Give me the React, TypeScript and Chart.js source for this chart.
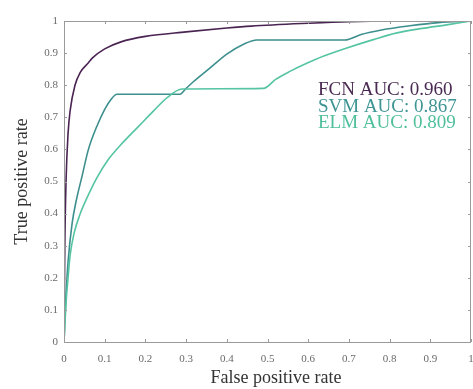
import React, { useEffect, useRef } from "react";
import { Chart, registerables } from "chart.js";

Chart.register(...registerables);

const xTickValues = [0, 0.1, 0.2, 0.3, 0.4, 0.5, 0.6, 0.7, 0.8, 0.9, 1];
const yTickValues = [0, 0.1, 0.2, 0.3, 0.4, 0.5, 0.6, 0.7, 0.8, 0.9, 1];

const fcnFpr = [0, 0.002, 0.005, 0.01, 0.015, 0.027, 0.04, 0.06, 0.07, 0.1, 0.14, 0.2, 0.3, 0.4, 0.46, 0.6, 0.7, 0.8, 1];
const fcnTpr = [0, 0.3, 0.5, 0.65, 0.72, 0.8, 0.84, 0.87, 0.885, 0.913, 0.935, 0.952, 0.966, 0.978, 0.984, 0.993, 0.998, 1, 1];

const svmFpr = [0, 0.005, 0.01, 0.02, 0.03, 0.045, 0.06, 0.08, 0.1, 0.115, 0.13, 0.285, 0.3, 0.317, 0.359, 0.4, 0.44, 0.474, 0.69, 0.73, 0.78, 0.85, 0.92, 1];
const svmTpr = [0, 0.15, 0.25, 0.37, 0.44, 0.52, 0.6, 0.67, 0.725, 0.755, 0.772, 0.772, 0.79, 0.81, 0.854, 0.897, 0.927, 0.941, 0.941, 0.958, 0.972, 0.985, 0.995, 1];

const elmFpr = [0, 0.005, 0.01, 0.015, 0.025, 0.04, 0.055, 0.08, 0.108, 0.14, 0.182, 0.22, 0.255, 0.29, 0.49, 0.52, 0.555, 0.587, 0.64, 0.695, 0.76, 0.818, 0.88, 0.94, 1];
const elmTpr = [0, 0.12, 0.2, 0.27, 0.34, 0.4, 0.445, 0.51, 0.567, 0.615, 0.67, 0.72, 0.763, 0.788, 0.79, 0.818, 0.843, 0.863, 0.892, 0.916, 0.942, 0.963, 0.977, 0.988, 1];

const seriesNames = ["FCN", "SVM", "ELM"];
const aucValues = ["0.960", "0.867", "0.809"];
const seriesColors = ["#4a2452", "#3d8f8e", "#55c4a2"];
const textColors = ["#4a2a52", "#3f9494", "#4fbf9b"];
const xTitle = "False positive rate";
const yTitle = "True positive rate";

const FONT = "'Liberation Serif', 'Times New Roman', serif";

function pts(xs: number[], ys: number[]) {
  return xs.map((x, i) => ({ x, y: ys[i] }));
}

const framePlugin = {
  id: "frame",
  afterDraw(chart: any) {
    const { ctx, chartArea, scales } = chart;
    const { left, right, top, bottom } = chartArea;
    ctx.save();
    ctx.strokeStyle = "#9a9a9a";
    ctx.lineWidth = 1;
    ctx.strokeRect(left + 0.5, top + 0.5, right - left - 1, bottom - top);
    const t = 3;
    ctx.beginPath();
    xTickValues.forEach((v) => {
      const px = Math.round(scales.x.getPixelForValue(v)) + 0.5;
      ctx.moveTo(px, bottom);
      ctx.lineTo(px, bottom - t);
      ctx.moveTo(px, top);
      ctx.lineTo(px, top + t);
    });
    yTickValues.forEach((v) => {
      const py = Math.round(scales.y.getPixelForValue(v)) + 0.5;
      ctx.moveTo(left, py);
      ctx.lineTo(left + t, py);
      ctx.moveTo(right, py);
      ctx.lineTo(right - t, py);
    });
    ctx.stroke();
    // x axis title
    ctx.font = `18px ${FONT}`;
    ctx.fillStyle = "#333";
    ctx.textAlign = "center";
    ctx.textBaseline = "middle";
    ctx.fillText(xTitle, left + 212, bottom + 36);
    // AUC labels
    ctx.font = `19px ${FONT}`;
    ctx.textBaseline = "alphabetic";
    ctx.textAlign = "left";
    const lx = scales.x.getPixelForValue(0.624);
    const baseY = [0.77, 0.717, 0.667];
    seriesNames.forEach((n, i) => {
      ctx.fillStyle = textColors[i];
      ctx.fillText(`${n} AUC: ${aucValues[i]}`, lx, scales.y.getPixelForValue(baseY[i]));
    });
    ctx.restore();
  },
};

export default function App() {
  const ref = useRef<HTMLCanvasElement | null>(null);
  useEffect(() => {
    if (!ref.current) return;
    const datasets = [
      pts(fcnFpr, fcnTpr),
      pts(svmFpr, svmTpr),
      pts(elmFpr, elmTpr),
    ].map((d, i) => ({
      label: seriesNames[i],
      data: d,
      borderColor: seriesColors[i],
      backgroundColor: seriesColors[i],
      borderWidth: 1.6,
      pointRadius: 0,
      showLine: true,
      fill: false,
      cubicInterpolationMode: "monotone" as const,
    }));
    const chart = new Chart(ref.current, {
      type: "scatter",
      data: { datasets: datasets.reverse() },
      options: {
        animation: false,
        responsive: false,
        maintainAspectRatio: false,
        layout: { padding: { top: 21, right: 2, left: 0, bottom: 0 } },
        plugins: { legend: { display: false }, tooltip: { enabled: false } },
        scales: {
          x: {
            type: "linear",
            min: 0,
            max: 1,
            afterFit: (s: any) => {
              s.height = 47;
              s.paddingLeft = 0;
              s.paddingRight = 0;
            },
            afterBuildTicks: (s: any) => {
              s.ticks = xTickValues.map((v) => ({ value: v }));
            },
            grid: { display: false, drawTicks: false },
            border: { display: false },
            ticks: {
              padding: 11,
              color: "#6a6a6a",
              font: { family: FONT, size: 11 },
              maxRotation: 0,
              autoSkip: false,
              callback: (v: any) => String(v),
            },
            title: { display: false },
          },
          y: {
            type: "linear",
            min: 0,
            max: 1,
            afterFit: (s: any) => {
              s.width = 64;
              s.paddingTop = 0;
              s.paddingBottom = 0;
            },
            afterBuildTicks: (s: any) => {
              s.ticks = yTickValues.map((v) => ({ value: v }));
            },
            grid: { display: false, drawTicks: false },
            border: { display: false },
            ticks: {
              padding: 6,
              color: "#6a6a6a",
              font: { family: FONT, size: 11 },
              autoSkip: false,
              callback: (v: any) => String(v),
            },
            title: {
              display: true,
              text: yTitle,
              color: "#333",
              font: { family: FONT, size: 18 },
              padding: { top: 11, bottom: 0 },
            },
          },
        },
      },
      plugins: [framePlugin],
    });
    return () => chart.destroy();
  }, []);
  return (
    <div style={{ position: "fixed", left: 0, top: 0, width: 473, height: 389, background: "#fff" }}>
      <canvas ref={ref} width={473} height={389} style={{ display: "block" }} />
    </div>
  );
}
